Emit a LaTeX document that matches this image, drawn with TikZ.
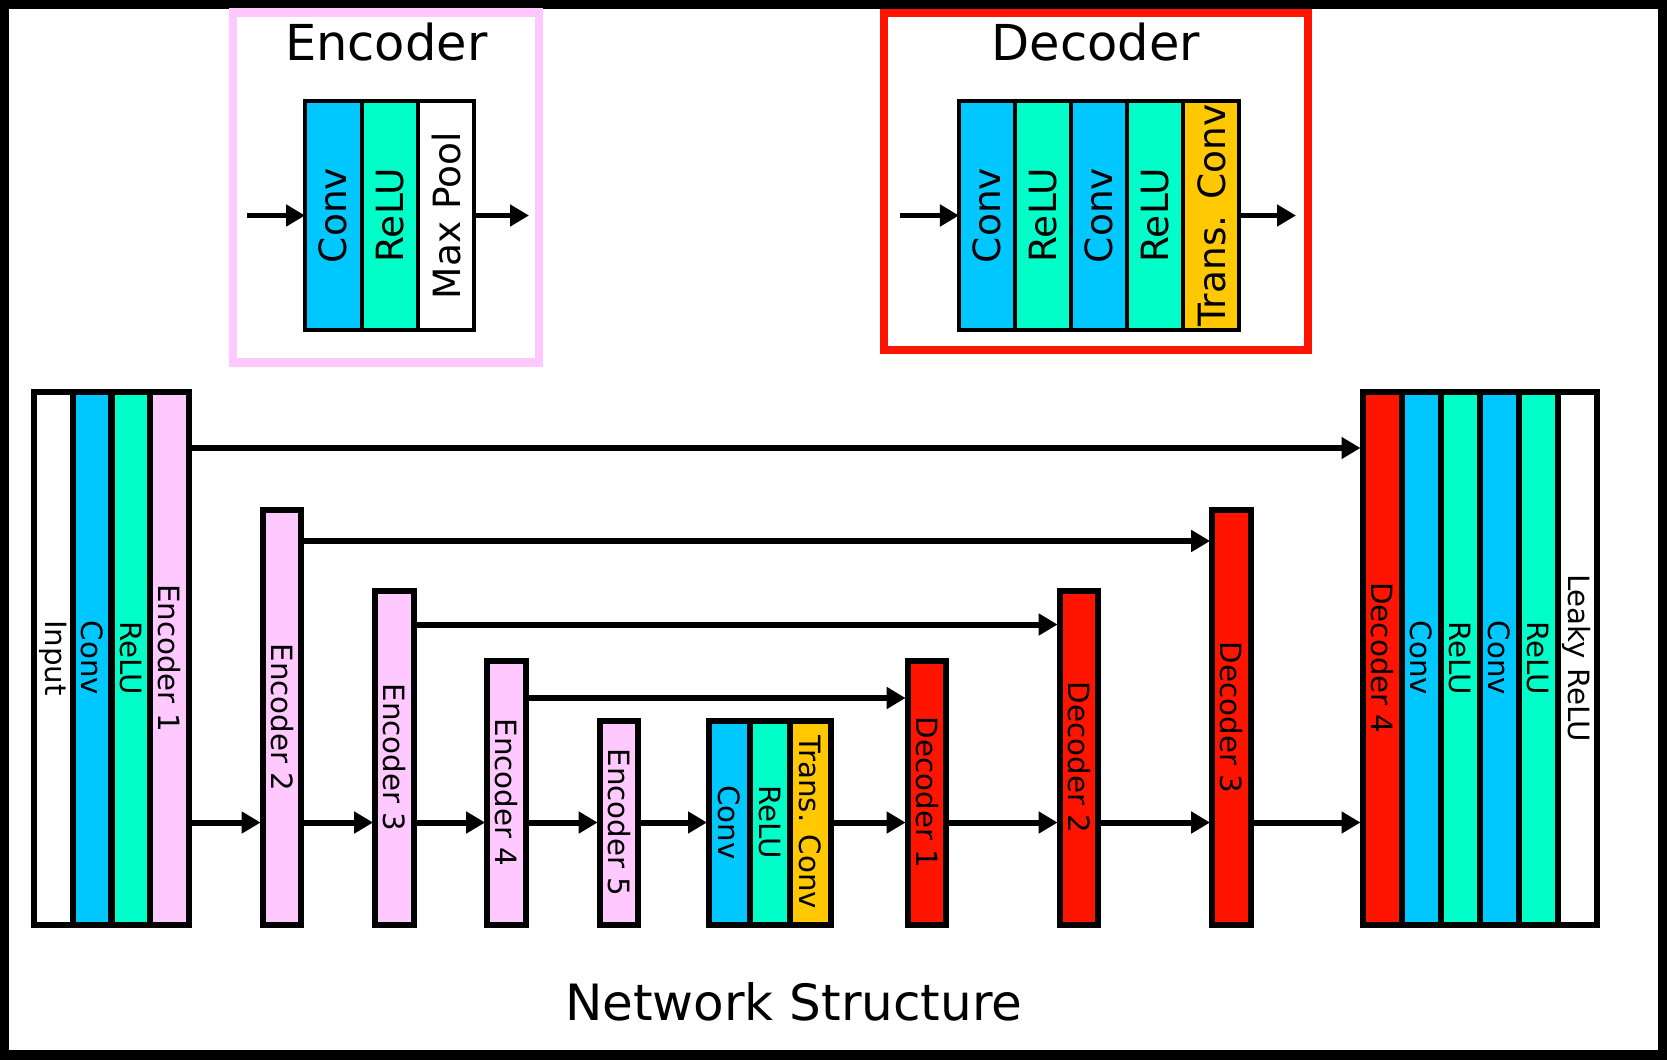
\documentclass[tikz,border=0pt]{standalone}
\usepackage{fontspec}
\setmainfont{DejaVu Sans}
\usetikzlibrary{arrows.meta,calc}
\definecolor{convc}{RGB}{0,200,255}
\definecolor{reluc}{RGB}{0,255,200}
\definecolor{encc}{RGB}{255,200,255}
\definecolor{decc}{RGB}{255,20,0}
\definecolor{tconvc}{RGB}{255,200,0}
\begin{document}
\begin{tikzpicture}[x=1pt,y=-1pt,
  col/.style={draw=black, line width=6pt, minimum width=38.75pt, inner sep=0pt, outer sep=0pt, font=\fontsize{29.3}{35}\selectfont},
  bcol/.style={col, minimum width=40.5pt},
  rcol/.style={col, minimum width=39pt},
  hbig/.style={minimum height=533pt},
  htwo/.style={minimum height=414.2pt},
  hthree/.style={minimum height=334pt},
  hfour/.style={minimum height=264pt},
  hfive/.style={minimum height=204pt},
  mini/.style={draw=black, line width=4pt, minimum width=56.4pt, minimum height=229pt, inner sep=0pt, outer sep=0pt, font=\fontsize{37.5}{45}\selectfont},
  dmini/.style={mini, minimum width=56.1pt},
  arr/.style={line width=6pt, -{Triangle[length=19pt,width=21pt]}, shorten >=2pt},
  marr/.style={line width=5pt, -{Triangle[length=19pt,width=21pt]}},
  titlefont/.style={font=\fontsize{49.5}{60}\selectfont, anchor=base, inner sep=0pt},
  frame/.style={line width=8.4pt, inner sep=0pt, outer sep=0pt},
]
% outer border
\fill[black] (0,0) rectangle (1667,1060);
\fill[white] (8.5,8.5) rectangle (1658,1049.5);
\useasboundingbox (0,0) rectangle (1667,1060);

% ---------- Encoder legend ----------
\node[frame, draw=encc, minimum width=306pt, minimum height=350pt] (encframe) at (386.2,187.5) {};
\node[titlefont] (enctitle) at (386.2,60) {Encoder};
\node[mini, fill=convc] (econv) at (333.3,215.5) {\rotatebox{90}{Conv}};
\node[mini, fill=reluc] (erelu) at (389.7,215.5) {\rotatebox{90}{ReLU}};
\node[mini, fill=white] (emax) at (446.1,215.5) {\rotatebox{90}{Max Pool}};
\coordinate (ein) at (247,215.5);
\coordinate (eout) at (529,215.5);
\draw[marr] (ein) -- (econv.west);
\draw[marr] (emax.east) -- (eout);

% ---------- Decoder legend ----------
\node[frame, draw=decc, minimum width=424pt, minimum height=337pt] (decframe) at (1096,181.5) {};
\node[titlefont] (dectitle) at (1096,60) {Decoder};
\node[dmini, fill=convc] (dconva) at (987,215.5) {\rotatebox{90}{Conv}};
\node[dmini, fill=reluc] (drelua) at (1043.1,215.5) {\rotatebox{90}{ReLU}};
\node[dmini, fill=convc] (dconvb) at (1099.2,215.5) {\rotatebox{90}{Conv}};
\node[dmini, fill=reluc] (dRelub) at (1155.3,215.5) {\rotatebox{90}{ReLU}};
\node[dmini, fill=tconvc] (dtconv) at (1211.4,215.5) {\rotatebox{90}{Trans. Conv}};
\coordinate (din) at (900,215.5);
\coordinate (dout) at (1296,215.5);
\draw[marr] (din) -- (dconva.west);
\draw[marr] (dtconv.east) -- (dout);

% ---------- Network ----------
\node[col, hbig, fill=white] (inp) at (53.4,658) {\rotatebox{-90}{Input}};
\node[col, hbig, fill=convc] (conva) at (92.1,658) {\rotatebox{-90}{Conv}};
\node[col, hbig, fill=reluc] (relua) at (130.9,658) {\rotatebox{-90}{ReLU}};
\node[col, hbig, fill=encc] (enca) at (169.6,658) {\rotatebox{-90}{Encoder 1}};

\node[col, htwo, fill=encc] (encb) at (282,717.4) {\rotatebox{-90}{Encoder 2}};
\node[col, hthree, fill=encc] (encc) at (394.5,757.5) {\rotatebox{-90}{Encoder 3}};
\node[col, hfour, fill=encc] (encd) at (506.5,792.5) {\rotatebox{-90}{Encoder 4}};
\node[col, hfive, fill=encc] (ence) at (619,822.5) {\rotatebox{-90}{Encoder 5}};

\node[bcol, hfive, fill=convc] (bconv) at (729.25,822.5) {\rotatebox{-90}{Conv}};
\node[bcol, hfive, fill=reluc] (brelu) at (769.75,822.5) {\rotatebox{-90}{ReLU}};
\node[bcol, hfive, fill=tconvc] (btconv) at (810.25,822.5) {\rotatebox{-90}{Trans. Conv}};

\node[col, hfour, fill=decc] (deca) at (927,792.5) {\rotatebox{-90}{Decoder 1}};
\node[col, hthree, fill=decc] (decb) at (1079,757.5) {\rotatebox{-90}{Decoder 2}};
\node[col, htwo, fill=decc] (decd) at (1231.5,717.4) {\rotatebox{-90}{Decoder 3}};

\node[rcol, hbig, fill=decc] (dece) at (1382,658) {\rotatebox{-90}{Decoder 4}};
\node[rcol, hbig, fill=convc] (oconva) at (1421,658) {\rotatebox{-90}{Conv}};
\node[rcol, hbig, fill=reluc] (orelua) at (1460,658) {\rotatebox{-90}{ReLU}};
\node[rcol, hbig, fill=convc] (oconvb) at (1499,658) {\rotatebox{-90}{Conv}};
\node[rcol, hbig, fill=reluc] (oRelub) at (1538,658) {\rotatebox{-90}{ReLU}};
\node[rcol, hbig, fill=white] (leaky) at (1577,658) {\rotatebox{-90}{Leaky ReLU}};

% skip connections
\draw[arr] (enca.east |- 0,448) -- (dece.west |- 0,448);
\draw[arr] (encb.east |- 0,541) -- (decd.west |- 0,541);
\draw[arr] (encc.east |- 0,624.5) -- (decb.west |- 0,624.5);
\draw[arr] (encd.east |- 0,698) -- (deca.west |- 0,698);

% main chain
\draw[arr] (enca.east |- ence.center) -- (encb.west |- ence.center);
\draw[arr] (encb.east |- ence.center) -- (encc.west |- ence.center);
\draw[arr] (encc.east |- ence.center) -- (encd.west |- ence.center);
\draw[arr] (encd.east |- ence.center) -- (ence.west);
\draw[arr] (ence.east) -- (bconv.west);
\draw[arr] (btconv.east) -- (deca.west |- ence.center);
\draw[arr] (deca.east |- ence.center) -- (decb.west |- ence.center);
\draw[arr] (decb.east |- ence.center) -- (decd.west |- ence.center);
\draw[arr] (decd.east |- ence.center) -- (dece.west |- ence.center);

\node[titlefont, font=\fontsize{50}{60}\selectfont] (nettitle) at (793.8,1020) {Network Structure};
\end{tikzpicture}
\end{document}
